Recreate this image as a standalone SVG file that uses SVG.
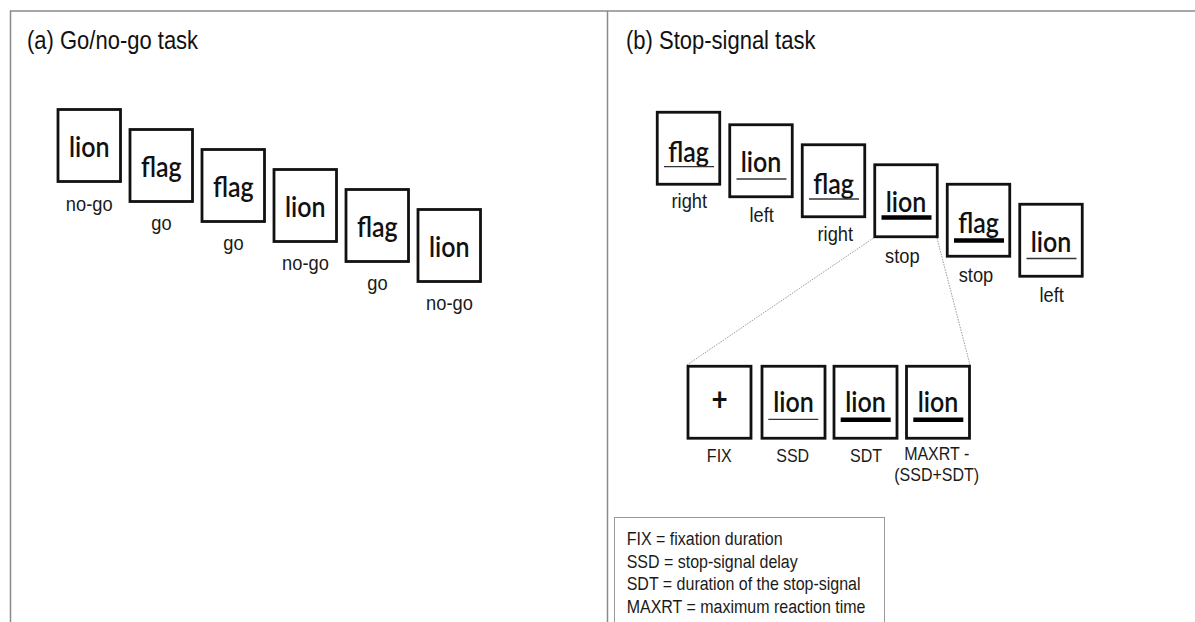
<svg xmlns="http://www.w3.org/2000/svg" width="1195" height="622" viewBox="0 0 1195 622">
<style>
.frame{fill:none;stroke:#8a8a8a;stroke-width:1.5}
.box{fill:#fff;stroke:#111;stroke-width:2.8}
.word{font-family:Lato,"Open Sans",sans-serif;font-size:25px;font-weight:600;fill:#111;text-anchor:middle}
.plus{font-family:Lato,"Open Sans",sans-serif;font-size:28px;font-weight:700;fill:#111;text-anchor:middle}
.lbl{font-family:"Liberation Sans",Arial,sans-serif;font-size:18.3px;fill:#1a1a1a;text-anchor:middle}
.lbl2{font-family:"Liberation Sans",Arial,sans-serif;font-size:16px;fill:#1a1a1a;text-anchor:middle}
.title{font-family:"Liberation Sans",Arial,sans-serif;font-size:22px;fill:#111}
.leg{font-family:"Liberation Sans",Arial,sans-serif;font-size:16px;fill:#1a1a1a}
.thin{stroke:#333;stroke-width:1.3}
.thick{stroke:#000;stroke-width:4.6}
.dot{stroke:#9a9a9a;stroke-width:1;stroke-dasharray:1.5 1.2;fill:none}
.legbox{fill:#fff;stroke:#9a9a9a;stroke-width:1}
</style>
<rect width="1195" height="622" fill="#fff"/>
<g id="frame">
<path class="frame" d="M10.5 622V11H1195M607.5 11V622"/>
</g>
<text class="title" transform="matrix(1 0 0 1.14 27 49)">(a) Go/no-go task</text>
<text class="title" transform="matrix(1 0 0 1.14 626 49)">(b) Stop-signal task</text>

<g id="panel-a">
<g id="a1"><rect class="box" x="58" y="109.5" width="62.5" height="72"/><text class="word" transform="matrix(1 0 0 1.14 89.25 156.5)">lion</text><text class="lbl" transform="matrix(1 0 0 1.14 89.25 210.5)">no-go</text></g>
<g id="a2"><rect class="box" x="130" y="129.5" width="62.5" height="72"/><text class="word" transform="matrix(1 0 0 1.14 161.25 176.5)">flag</text><text class="lbl" transform="matrix(1 0 0 1.14 161.5 230)">go</text></g>
<g id="a3"><rect class="box" x="202" y="149.5" width="62.5" height="72"/><text class="word" transform="matrix(1 0 0 1.14 233.25 196.5)">flag</text><text class="lbl" transform="matrix(1 0 0 1.14 233.5 250)">go</text></g>
<g id="a4"><rect class="box" x="274" y="169.5" width="62.5" height="72"/><text class="word" transform="matrix(1 0 0 1.14 305.25 216.5)">lion</text><text class="lbl" transform="matrix(1 0 0 1.14 305.5 269.5)">no-go</text></g>
<g id="a5"><rect class="box" x="346" y="189.5" width="62.5" height="72"/><text class="word" transform="matrix(1 0 0 1.14 377.25 236.5)">flag</text><text class="lbl" transform="matrix(1 0 0 1.14 377.5 290)">go</text></g>
<g id="a6"><rect class="box" x="418" y="209.5" width="62.5" height="72"/><text class="word" transform="matrix(1 0 0 1.14 449.25 256.5)">lion</text><text class="lbl" transform="matrix(1 0 0 1.14 449.5 309.5)">no-go</text></g>
</g>

<g id="connectors">
<line class="dot" x1="873.5" y1="238" x2="687" y2="365"/>
<line class="dot" x1="937" y1="238" x2="970" y2="365"/>
</g>

<g id="panel-b">
<g id="b1"><rect class="box" x="657.25" y="112.25" width="62.5" height="72"/><text class="word" transform="matrix(1 0 0 1.14 688.5 161.5)">flag</text><line class="thin" x1="664" y1="166.7" x2="714" y2="166.7"/><text class="lbl" transform="matrix(1 0 0 1.14 689.3 207.5)">right</text></g>
<g id="b2"><rect class="box" x="729.75" y="124.75" width="62.5" height="72"/><text class="word" transform="matrix(1 0 0 1.14 761 172)">lion</text><line class="thin" x1="736.5" y1="179" x2="786.5" y2="179"/><text class="lbl" transform="matrix(1 0 0 1.14 761.7 222)">left</text></g>
<g id="b3"><rect class="box" x="802.25" y="144.75" width="62.5" height="72"/><text class="word" transform="matrix(1 0 0 1.14 833.5 193.5)">flag</text><line class="thin" x1="809" y1="199" x2="859" y2="199"/><text class="lbl" transform="matrix(1 0 0 1.14 835.3 241)">right</text></g>
<g id="b4"><rect class="box" x="874.75" y="164.75" width="62.5" height="72"/><text class="word" transform="matrix(1 0 0 1.14 906 212)">lion</text><line class="thick" x1="881.5" y1="217.5" x2="931.5" y2="217.5"/><text class="lbl" transform="matrix(1 0 0 1.14 902.3 263)">stop</text></g>
<g id="b5"><rect class="box" x="947.25" y="184.25" width="62.5" height="72"/><text class="word" transform="matrix(1 0 0 1.14 978.5 233)">flag</text><line class="thick" x1="954" y1="240.5" x2="1004" y2="240.5"/><text class="lbl" transform="matrix(1 0 0 1.14 976 282)">stop</text></g>
<g id="b6"><rect class="box" x="1019.75" y="204.25" width="62.5" height="72"/><text class="word" transform="matrix(1 0 0 1.14 1051 251.5)">lion</text><line class="thin" x1="1026.5" y1="258.5" x2="1076.5" y2="258.5"/><text class="lbl" transform="matrix(1 0 0 1.14 1051.7 302)">left</text></g>
</g>

<g id="phases">
<g id="fix"><rect class="box" x="688" y="366.25" width="63" height="72"/><text class="plus" transform="matrix(1 0 0 1.14 719.5 411)">+</text><text class="lbl2" transform="matrix(1 0 0 1.14 719.3 462.3)">FIX</text></g>
<g id="ssd"><rect class="box" x="762" y="366.25" width="63" height="72"/><text class="word" transform="matrix(1 0 0 1.14 793.5 411.7)">lion</text><line class="thin" x1="768.3" y1="419.3" x2="818.3" y2="419.3"/><text class="lbl2" transform="matrix(1 0 0 1.14 792.7 462.3)">SSD</text></g>
<g id="sdt"><rect class="box" x="834" y="366.25" width="63" height="72"/><text class="word" transform="matrix(1 0 0 1.14 865.5 411.7)">lion</text><line class="thick" x1="840.7" y1="419.7" x2="890.7" y2="419.7"/><text class="lbl2" transform="matrix(1 0 0 1.14 866 462.3)">SDT</text></g>
<g id="maxrt"><rect class="box" x="906.5" y="366.25" width="63" height="72"/><text class="word" transform="matrix(1 0 0 1.14 938 411.7)">lion</text><line class="thick" x1="913.3" y1="419.7" x2="963.3" y2="419.7"/><text class="lbl2" transform="matrix(1 0 0 1.14 936.7 460)">MAXRT -</text><text class="lbl2" transform="matrix(1 0 0 1.14 936.7 481)">(SSD+SDT)</text></g>
</g>

<g id="legend">
<rect class="legbox" x="614.5" y="517.5" width="270" height="120"/>
<text class="leg" transform="matrix(1 0 0 1.14 626.7 545)">FIX = fixation duration</text>
<text class="leg" transform="matrix(1 0 0 1.14 626.7 567.5)">SSD = stop-signal delay</text>
<text class="leg" transform="matrix(1 0 0 1.14 626.7 590)">SDT = duration of the stop-signal</text>
<text class="leg" transform="matrix(1 0 0 1.14 626.7 612.7)">MAXRT = maximum reaction time</text>
</g>
</svg>
